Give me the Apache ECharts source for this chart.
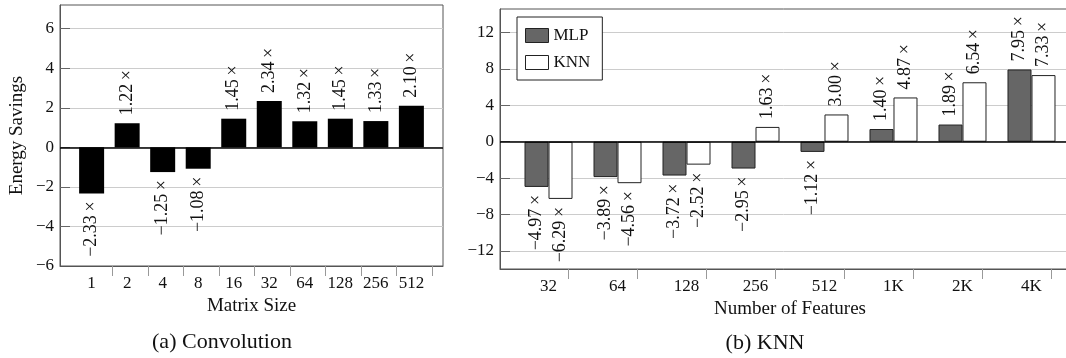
<!DOCTYPE html>
<html>
<head>
<meta charset="utf-8">
<script src="https://cdn.jsdelivr.net/npm/echarts@6/dist/echarts.min.js"></script>
<style>
  html, body { margin: 0; padding: 0; background: #fff; }
  #chart { width: 1066px; height: 358px; }
</style>
</head>
<body>
<div id="chart"></div>
<script>
// (a) convolution
const convSizes = ['1', '2', '4', '8', '16', '32', '64', '128', '256', '512'];
const convSavings = [-2.33, 1.22, -1.25, -1.08, 1.45, 2.34, 1.32, 1.45, 1.33, 2.10];
const convTicks = [-6, -4, -2, 0, 2, 4, 6];

// (b) knn
const knnFeatures = ['32', '64', '128', '256', '512', '1K', '2K', '4K'];
const mlpSavings = [-4.97, -3.89, -3.72, -2.95, -1.12, 1.40, 1.89, 7.95];
const knnSavings = [-6.29, -4.56, -2.52, 1.63, 3.00, 4.87, 6.54, 7.33];
const knnTicks = [-12, -8, -4, 0, 4, 8, 12];

const FONT = 'Liberation Serif';
const INK = '#111';

const fmtBar = v => (v < 0 ? '\u2212' : '') + Math.abs(v).toFixed(2) + '\u2009\u00d7';
const fmtTick = v => (v < 0 ? '\u2212' : '') + Math.abs(v);

const chart = echarts.init(document.getElementById('chart'));

function barData(values) {
  return values.map((v, i) => ({
    value: [i + 1, v],
    label: v < 0 ? { position: 'bottom', align: 'right' } : { position: 'top', align: 'left' }
  }));
}

function catAxis(gridIndex, cats, lo, hi, tickShift, name) {
  const pos = cats.map((c, i) => i + 1);
  return {
    type: 'value', gridIndex: gridIndex, min: lo, max: hi,
    name: name, nameLocation: 'middle', nameGap: 28,
    nameTextStyle: { fontFamily: FONT, fontSize: 19, color: INK },
    axisLine: { show: true, onZero: false, lineStyle: { color: '#555' } },
    splitLine: { show: false },
    axisTick: { show: true, inside: false, length: 10, customValues: pos.map(p => p + tickShift), lineStyle: { color: '#999' } },
    axisLabel: { customValues: pos, margin: 9, fontFamily: FONT, fontSize: 17, color: INK,
      formatter: v => cats[Math.round(v) - 1] }
  };
}

function valAxis(gridIndex, lo, hi, ticks, name) {
  return {
    type: 'value', gridIndex: gridIndex, min: lo, max: hi,
    name: name, nameLocation: 'middle', nameGap: 33,
    nameTextStyle: { fontFamily: FONT, fontSize: 19, color: INK },
    axisLine: { show: true, onZero: false, lineStyle: { color: '#555' } },
    axisTick: { show: true, inside: true, length: 10, customValues: ticks.filter(t => t > lo), lineStyle: { color: '#666' } },
    axisLabel: { customValues: ticks, margin: 6, fontFamily: FONT, fontSize: 17, color: INK, formatter: fmtTick },
    splitLine: { show: true, lineStyle: { color: '#ccc', width: 1 } }
  };
}

const barLabel = {
  show: true, rotate: 90, verticalAlign: 'middle', distance: 8,
  fontFamily: FONT, fontSize: 18, color: INK,
  formatter: p => fmtBar(p.value[1])
};

const zeroLine = {
  silent: true, symbol: 'none', animation: false,
  label: { show: false },
  lineStyle: { color: '#000', width: 1.5, type: 'solid' },
  data: [{ yAxis: 0 }]
};

const option = {
  animation: false,
  backgroundColor: '#fff',
  grid: [
    { left: 60, top: 5, width: 383, height: 261, show: true, borderColor: '#555', borderWidth: 1, outerBoundsMode: 'none' },
    { left: 500, top: 9, width: 580, height: 260, show: true, borderColor: '#555', borderWidth: 1, outerBoundsMode: 'none' }
  ],
  xAxis: [
    catAxis(0, convSizes, 0.11, 10.89, 0.58, 'Matrix Size'),
    catAxis(1, knnFeatures, 0.297, 8.703, 0.29, 'Number of Features')
  ],
  yAxis: [
    valAxis(0, -6, 7.2, convTicks, 'Energy Savings'),
    valAxis(1, -14, 14.6, knnTicks, '')
  ],
  legend: {
    data: ['MLP', 'KNN'], orient: 'vertical', left: 517, top: 17,
    icon: 'rect', itemWidth: 23, itemHeight: 14, itemGap: 10,
    padding: [10, 12, 9, 8],
    borderColor: '#222', borderWidth: 1, borderRadius: 0, backgroundColor: '#fff',
    textStyle: { fontFamily: FONT, fontSize: 17, color: INK },
    itemStyle: { borderColor: '#222', borderWidth: 1 }
  },
  series: [
    {
      name: 'Convolution', type: 'bar', xAxisIndex: 0, yAxisIndex: 0,
      barWidth: 25, data: barData(convSavings),
      itemStyle: { color: '#000' },
      label: barLabel,
      markLine: zeroLine
    },
    {
      name: 'MLP', type: 'bar', xAxisIndex: 1, yAxisIndex: 1,
      barWidth: 24, barGap: '0%', data: barData(mlpSavings),
      itemStyle: { color: '#666', borderColor: '#222', borderWidth: 1 },
      label: barLabel,
      markLine: zeroLine
    },
    {
      name: 'KNN', type: 'bar', xAxisIndex: 1, yAxisIndex: 1,
      barWidth: 24, barGap: '0%', data: barData(knnSavings),
      itemStyle: { color: '#fff', borderColor: '#222', borderWidth: 1 },
      label: barLabel
    }
  ],
  graphic: [
    { type: 'text', x: 222, y: 342, style: { text: '(a) Convolution', font: '22px "Liberation Serif"', fill: INK, textAlign: 'center', textVerticalAlign: 'middle' } },
    { type: 'text', x: 765, y: 343, style: { text: '(b) KNN', font: '22px "Liberation Serif"', fill: INK, textAlign: 'center', textVerticalAlign: 'middle' } }
  ]
};

chart.setOption(option);
</script>
</body>
</html>
